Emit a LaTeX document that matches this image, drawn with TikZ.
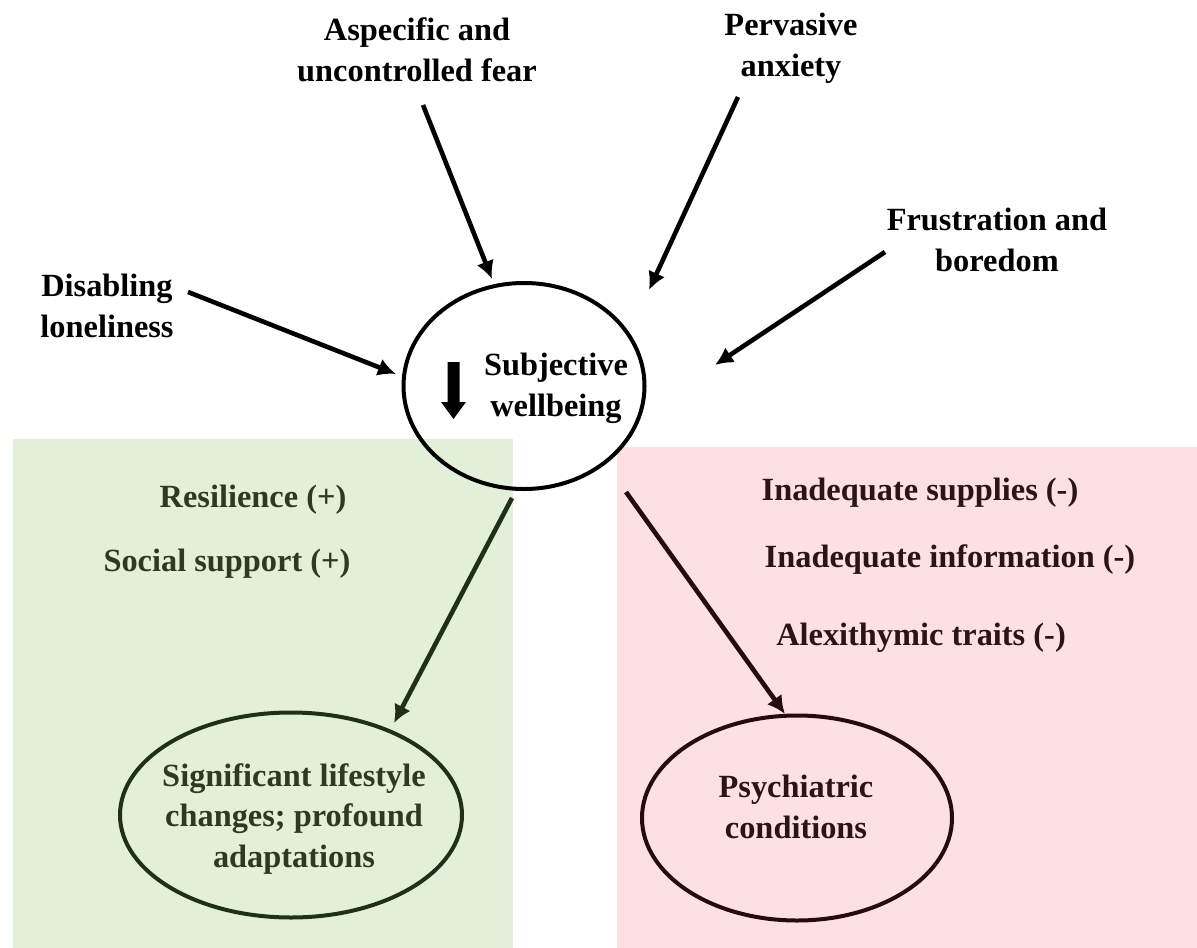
\documentclass[tikz,border=0pt]{standalone}
\usepackage{fontspec}
\setmainfont{Liberation Serif}
\usetikzlibrary{arrows.meta,shapes.geometric}
\definecolor{greenbg}{HTML}{E3F0D9}
\definecolor{pinkbg}{HTML}{FDE0E2}
\definecolor{greendark}{HTML}{1F3015}
\definecolor{greentext}{HTML}{2C3B20}
\definecolor{pinkdark}{HTML}{260A0C}
\definecolor{pinktext}{HTML}{2A1416}
\tikzset{
  lbl/.style={font=\fontsize{32.5}{41}\selectfont\bfseries, align=center, inner sep=0pt},
  ell/.style={draw, ellipse, line width=4bp, inner sep=0pt},
  arr/.style={line width=4.6bp, -{Latex[length=18bp,width=18bp]}},
}
\begin{document}
\begin{tikzpicture}[x=1bp,y=-1bp]
\useasboundingbox (0,0) rectangle (1197,948);
% background panels
\fill[greenbg] (13,439) rectangle (513,948);
\fill[pinkbg] (617,447) rectangle (1197,948);

% central ellipse
\node[ell, minimum width=241bp, minimum height=206bp] (sw) at (524,386) {};
\node[lbl] (swt) at (556,388) {Subjective\\wellbeing};
\fill (447.5,362) -- (459.5,362) -- (459.5,402) -- (466,402) -- (453.5,419) -- (441,402) -- (447.5,402) -- cycle;

% top labels
\node[lbl] (fear) at (417,50) {Aspecific and\\uncontrolled fear};
\node[lbl] (anx) at (791,48) {Pervasive\\anxiety};
\node[lbl] (frus) at (997,240) {Frustration and\\boredom};
\node[lbl] (lone) at (107,306) {Disabling\\loneliness};

\coordinate (fearA) at (423,105);
\coordinate (fearB) at (492,279);
\coordinate (anxA) at (738,97);
\coordinate (anxB) at (649,290);
\coordinate (frusA) at (885,252);
\coordinate (frusB) at (715,365);
\coordinate (loneA) at (188,292);
\coordinate (loneB) at (396,374);
\draw[arr] (fearA) -- (fearB);
\draw[arr] (anxA) -- (anxB);
\draw[arr] (frusA) -- (frusB);
\draw[arr] (loneA) -- (loneB);

% green side
\node[lbl, text=greentext] (res) at (253,500) {Resilience (+)};
\node[lbl, text=greentext] (soc) at (227,564) {Social support (+)};
\node[ell, draw=greendark, text=greentext, minimum width=342bp, minimum height=205bp] (life) at (291,815) {};
\node[lbl, text=greentext] (lifet) at (294,819) {Significant lifestyle\\changes; profound\\adaptations};
\coordinate (gA) at (512,498);
\coordinate (gB) at (394,723);
\draw[arr, greendark] (gA) -- (gB);

% pink side
\node[lbl, text=pinktext] (sup) at (920,493) {Inadequate supplies (-)};
\node[lbl, text=pinktext] (inf) at (950,560) {Inadequate information (-)};
\node[lbl, text=pinktext] (alex) at (921,638) {Alexithymic traits (-)};
\node[ell, draw=pinkdark, minimum width=310bp, minimum height=205bp] (psy) at (797,818) {};
\node[lbl, text=pinktext] (psyt) at (796,807) {Psychiatric\\conditions};
\coordinate (pA) at (626,492);
\coordinate (pB) at (785,714);
\draw[arr, pinkdark] (pA) -- (pB);
\end{tikzpicture}
\end{document}
